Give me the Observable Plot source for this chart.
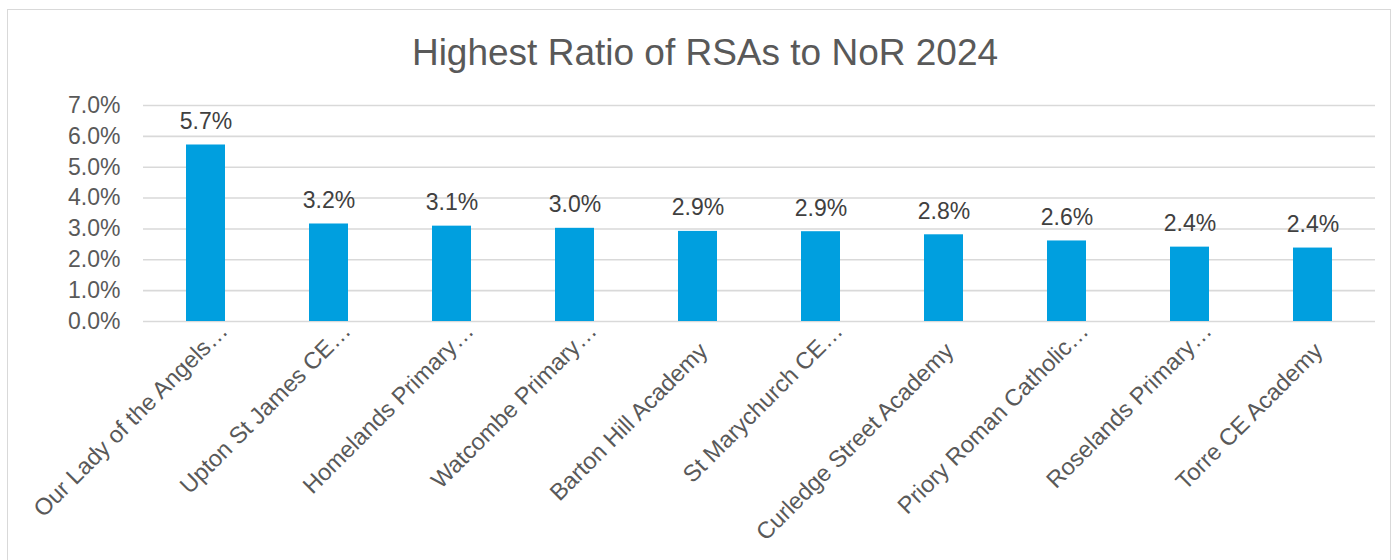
<!DOCTYPE html>
<html>
<head>
<meta charset="utf-8">
<script src="https://cdn.jsdelivr.net/npm/d3@7"></script>
<script src="https://cdn.jsdelivr.net/npm/@observablehq/plot@0.6"></script>
<style>
  html, body { margin: 0; padding: 0; background: #fff; }
  #wrap { position: relative; width: 1394px; height: 560px; overflow: hidden; font-family: "Liberation Sans", Arial, sans-serif; }
  #frame { position: absolute; left: 7px; top: 9px; width: 1384px; height: 600px; border: 1px solid #d9d9d9; box-sizing: border-box; }
  #title { position: absolute; left: 0; width: 1410px; top: 34px; text-align: center; font-size: 37px; line-height: 37px; color: #595959; }
  #chart { position: absolute; left: 0; top: 70px; }
</style>
</head>
<body>
<div id="wrap">
  <div id="frame"></div>
  <div id="title">Highest Ratio of RSAs to NoR 2024</div>
  <div id="chart"></div>
</div>
<script>
const schools = [
  "Our Lady of the Angels…",
  "Upton St James CE…",
  "Homelands Primary…",
  "Watcombe Primary…",
  "Barton Hill Academy",
  "St Marychurch CE…",
  "Curledge Street Academy",
  "Priory Roman Catholic…",
  "Roselands Primary…",
  "Torre CE Academy"
];
const ratios = [0.0572, 0.0316, 0.0309, 0.0302, 0.0292, 0.0291, 0.0281, 0.0261, 0.0241, 0.0238];
const yTicks = [0, 0.01, 0.02, 0.03, 0.04, 0.05, 0.06, 0.07];

const data = schools.map((name, i) => ({name, value: ratios[i]}));
const pct = d3.format(".1%");
const truncated = d => d.name.endsWith("…");

const chart = Plot.plot({
  width: 1394,
  height: 490,
  marginTop: 35,
  marginBottom: 239,
  marginLeft: 143,
  marginRight: 19,
  style: {fontFamily: "'Liberation Sans', Arial, sans-serif", background: "transparent"},
  x: {domain: schools, paddingInner: 0.683, paddingOuter: 0.3415, align: 0.5, axis: null},
  y: {domain: [0, 0.07], ticks: yTicks, axis: null},
  marks: [
    Plot.ruleY(yTicks, {stroke: "#d9d9d9", strokeWidth: 1.6}),
    Plot.barY(data, {x: "name", y: "value", fill: "#009fdf"}),
    Plot.text(yTicks, {
      y: d => d, frameAnchor: "left", text: d => pct(d), textAnchor: "end",
      dx: -23, fontSize: 23, fill: "#595959"
    }),
    Plot.text(data, {
      x: "name", y: "value", text: d => pct(d.value), lineAnchor: "bottom",
      dy: -16, fontSize: 23, fill: "#404040"
    }),
    Plot.text(data, {
      filter: truncated, x: "name", frameAnchor: "bottom", text: "name",
      rotate: -45, textAnchor: "end", lineAnchor: "bottom",
      dx: 23, dy: 11, fontSize: 23.5, fill: "#595959"
    }),
    Plot.text(data, {
      filter: d => !truncated(d), x: "name", frameAnchor: "bottom", text: "name",
      rotate: -45, textAnchor: "end", lineAnchor: "bottom",
      dx: 11, dy: 31, fontSize: 23.5, fill: "#595959"
    })
  ]
});
document.getElementById("chart").appendChild(chart);
</script>
</body>
</html>
